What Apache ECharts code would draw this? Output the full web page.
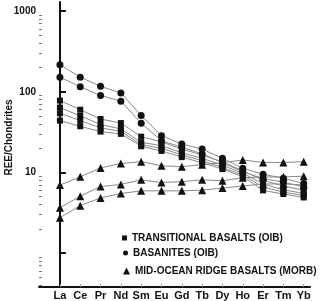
<!DOCTYPE html>
<html>
<head>
<meta charset="utf-8">
<script src="https://cdn.jsdelivr.net/npm/echarts@6/dist/echarts.min.js"></script>
<style>
  html, body { margin: 0; padding: 0; background: #fff; }
  #chart { width: 322px; height: 301px; }
</style>
</head>
<body>
<div id="chart"></div>
<script>
// 稀土元素
var categories = ['La', 'Ce', 'Pr', 'Nd', 'Sm', 'Eu', 'Gd', 'Tb', 'Dy', 'Ho', 'Er', 'Tm', 'Yb'];

// transitional basalts (squares)
var trans1 = [78, 60, 46, 41, 27.8, 24, 19.5, 16.5, 13.5, 10.5, 8.0, 6.8, 6.0];
var trans2 = [63.8, 50.4, 39.3, 34.7, 23.6, 21.5, 17.5, 15, 12.3, 9.8, 7.2, 6.1, 5.5];
var trans3 = [54.2, 44, 35.7, 32.4, 22.1, 20, 16.5, 14, 11.5, 9.3, 6.6, 5.7, 5.2];
var trans4 = [44, 37.4, 32.1, 30.1, 21.1, 18.5, 15.5, 13.2, 11, 8.9, 6.0, 5.4, 4.9];
// basanites (circles)
var basan1 = [217, 152, 117, 97, 51, 28.6, 22.5, 19.5, 15, 11.3, 9.5, 8.5, 7.3];
var basan2 = [152, 115.6, 90.2, 76.6, 40.8, 24.8, 20.5, 17, 13.3, 10.2, 8.4, 7.6, 6.6];
// MORB (triangles)
var morb1 = [6.97, 8.84, 11.4, 12.9, 13.6, 12.1, 11.8, 12.5, 13.2, 14.3, 13.3, 13.3, 13.6];
var morb2 = [3.66, 5.08, 6.7, 7.1, 8.1, 7.5, 7.7, 8.1, 7.9, 8.6, 8.8, 8.8, 9.0];
var morb3 = [2.75, 3.88, 4.84, 5.48, 5.92, 5.92, 5.92, 6.04, 6.4, 6.8, 7.2, 7.2, 7.0];

var yLabels = [10, 100, 1000];
var yMajor = [1, 10, 100, 1000];
var yMinor = [0.4, 0.5, 0.6, 0.7, 0.8, 0.9,
  2, 3, 4, 5, 6, 7, 8, 9,
  20, 30, 40, 50, 60, 70, 80, 90,
  200, 300, 400, 500, 600, 700, 800, 900];

var NAME_T = 'TRANSITIONAL BASALTS (OIB)';
var NAME_B = 'BASANITES (OIB)';
var NAME_M = 'MID-OCEAN RIDGE BASALTS (MORB)';

var idx = categories.map(function (c, i) { return i; });

function pairs(arr) {
  return arr.map(function (v, i) { return [i, v]; });
}

function mkSeries(name, arr, symbol, size) {
  return {
    name: name,
    type: 'line',
    data: pairs(arr),
    symbol: symbol,
    symbolSize: size,
    showAllSymbol: true,
    lineStyle: { color: '#8a8a8a', width: 1 },
    itemStyle: { color: '#111' },
    emphasis: { disabled: true },
    animation: false,
    z: 3
  };
}

var chart = echarts.init(document.getElementById('chart'));

function mkLegend(name, icon, w, h, left, top) {
  return {
    data: [name],
    icon: icon,
    itemWidth: w,
    itemHeight: h,
    left: left,
    top: top,
    padding: 0,
    selectedMode: false,
    textStyle: { fontFamily: 'Liberation Sans, Arial', fontWeight: 'bold', fontSize: 10, color: '#111' }
  };
}

var option = {
  backgroundColor: '#fff',
  animation: false,
  grid: { left: 39, right: 12, top: 2, bottom: 14, containLabel: false, outerBoundsMode: 'none' },
  legend: [
    mkLegend(NAME_T, 'rect', 5, 5, 122, 233),
    mkLegend(NAME_B, 'circle', 5, 5, 123, 248),
    mkLegend(NAME_M, 'triangle', 7, 7, 123, 266)
  ],
  xAxis: {
    type: 'value',
    min: -1.03,
    max: 12.31,
    splitLine: { show: false },
    axisLine: { lineStyle: { color: '#111', width: 2 } },
    axisTick: { inside: true, length: 3, customValues: idx, lineStyle: { color: '#999', width: 1 } },
    axisLabel: {
      customValues: idx,
      margin: 3,
      color: '#111',
      fontFamily: 'Liberation Sans, Arial',
      fontWeight: 'bold',
      fontSize: 11,
      formatter: function (v) { return categories[Math.round(v)]; }
    }
  },
  yAxis: [{
    type: 'log',
    logBase: 10,
    min: 0.38,
    max: 1300,
    name: 'REE/Chondrites',
    nameLocation: 'middle',
    nameGap: 25,
    nameMoveOverlap: false,
    nameTextStyle: { fontFamily: 'Liberation Sans, Arial', fontWeight: 'bold', fontSize: 10, color: '#111', padding: [0, 0, 0, 14] },
    splitLine: { show: false },
    axisLine: { show: true, lineStyle: { color: '#111', width: 2 } },
    axisTick: { inside: true, length: 6, customValues: yMajor, lineStyle: { color: '#111', width: 2 } },
    axisLabel: {
      customValues: yLabels,
      margin: 3,
      color: '#111',
      fontFamily: 'Liberation Sans, Arial',
      fontWeight: 'bold',
      fontSize: 10,
      formatter: function (v) { return String(Math.round(v)); }
    }
  }, {
    type: 'log',
    logBase: 10,
    min: 0.38,
    max: 1300,
    position: 'left',
    splitLine: { show: false },
    axisLine: { show: false },
    axisTick: { show: true, inside: true, length: 3, customValues: yMinor, lineStyle: { color: '#777', width: 1 } },
    axisLabel: { show: false }
  }],
  series: [
    mkSeries(NAME_T, trans1, 'rect', 6),
    mkSeries(NAME_T, trans2, 'rect', 6),
    mkSeries(NAME_T, trans3, 'rect', 6),
    mkSeries(NAME_T, trans4, 'rect', 6),
    mkSeries(NAME_B, basan1, 'circle', 7),
    mkSeries(NAME_B, basan2, 'circle', 7),
    mkSeries(NAME_M, morb1, 'triangle', 8),
    mkSeries(NAME_M, morb2, 'triangle', 8),
    mkSeries(NAME_M, morb3, 'triangle', 8)
  ]
};

chart.setOption(option);
</script>
</body>
</html>
